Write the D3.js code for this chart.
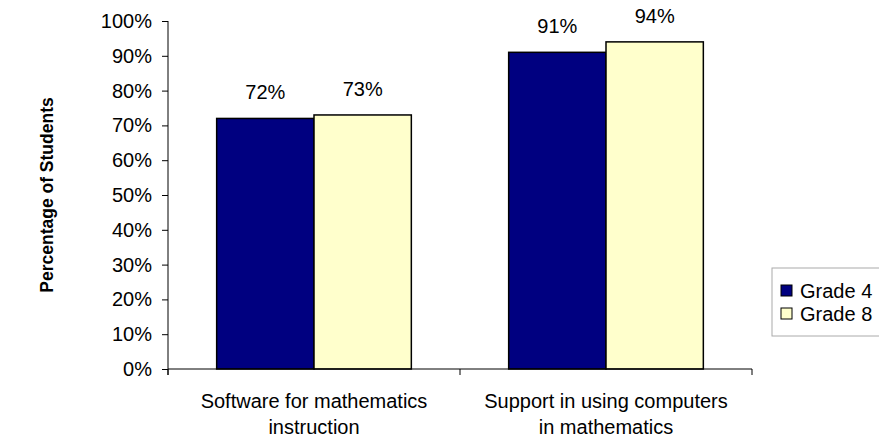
<!DOCTYPE html>
<html>
<head>
<meta charset="utf-8">
<script src="https://cdn.jsdelivr.net/npm/d3@7"></script>
<style>
  body { margin: 0; background: #fff; }
  svg { display: block; font-family: "Liberation Sans", Arial, sans-serif; }
</style>
</head>
<body>
<div id="chart"></div>
<script>
const [width, height] = [879, 443];

// data
const categories = [
  ["Software for mathematics", "instruction"],
  ["Support in using computers", "in mathematics"]
];
const seriesNames = ["Grade 4", "Grade 8"];
const grade4 = [72, 91];
const grade8 = [73, 94];
const yTicks = [0, 10, 20, 30, 40, 50, 60, 70, 80, 90, 100];
const colors = ["#000080", "#FFFFCC"];

const margin = {top: 21, right: 127, bottom: 74, left: 168};
const w = width - margin.left - margin.right;
const h = height - margin.top - margin.bottom;

const svg = d3.select("#chart")
  .append("svg")
  .attr("width", width)
  .attr("height", height);

const g = svg.append("g")
  .attr("transform", `translate(${margin.left},${margin.top})`);

const x = d3.scaleBand()
  .domain(d3.range(categories.length))
  .range([0, w])
  .paddingInner(0)
  .paddingOuter(0);

const x1 = d3.scaleBand()
  .domain(seriesNames)
  .range([0, x.bandwidth()])
  .paddingInner(0)
  .paddingOuter(0.5);

const y = d3.scaleLinear().domain([0, 100]).range([h, 0]);

// y axis
const yAxis = d3.axisLeft(y)
  .tickValues(yTicks)
  .tickFormat(d => d + "%")
  .tickSize(6)
  .tickPadding(10);

const ya = g.append("g").call(yAxis);
ya.select(".domain").remove();
ya.selectAll("line").attr("stroke", "#000");
ya.selectAll("text")
  .attr("font-size", 20)
  .attr("fill", "#000")
  .attr("font-family", "Liberation Sans, Arial, sans-serif");

g.append("line")
  .attr("x1", 0).attr("x2", 0)
  .attr("y1", 0).attr("y2", h + 6)
  .attr("stroke", "#000");

// bars
const rows = categories.map((c, i) => ({i, vals: [grade4[i], grade8[i]]}));

const groups = g.selectAll(".grp")
  .data(rows)
  .enter().append("g")
  .attr("transform", d => `translate(${x(d.i)},0)`);

groups.selectAll("rect")
  .data(d => d.vals.map((v, k) => ({v, k})))
  .enter().append("rect")
  .attr("x", d => x1(seriesNames[d.k]))
  .attr("y", d => y(d.v))
  .attr("width", x1.bandwidth())
  .attr("height", d => h - y(d.v))
  .attr("fill", d => colors[d.k])
  .attr("stroke", "#000")
  .attr("stroke-width", 1.5);

groups.selectAll(".lbl")
  .data(d => d.vals.map((v, k) => ({v, k})))
  .enter().append("text")
  .attr("x", d => x1(seriesNames[d.k]) + x1.bandwidth() / 2)
  .attr("y", d => y(d.v) - 19)
  .attr("text-anchor", "middle")
  .attr("font-size", 20)
  .text(d => d.v + "%");

// x axis
g.append("line")
  .attr("x1", 0).attr("x2", w)
  .attr("y1", h).attr("y2", h)
  .attr("stroke", "#000");

g.selectAll(".xtick")
  .data(d3.range(categories.length + 1))
  .enter().append("line")
  .attr("x1", d => d * x.bandwidth())
  .attr("x2", d => d * x.bandwidth())
  .attr("y1", h).attr("y2", h + 6)
  .attr("stroke", "#000");

const xl = g.selectAll(".xlbl")
  .data(categories)
  .enter().append("text")
  .attr("text-anchor", "middle")
  .attr("font-size", 20)
  .attr("transform", (d, i) => `translate(${x(i) + x.bandwidth() / 2},${h + 39})`);

xl.selectAll("tspan")
  .data(d => d)
  .enter().append("tspan")
  .attr("x", 0)
  .attr("dy", (d, i) => i === 0 ? 0 : 26)
  .text(d => d);

// y title
svg.append("text")
  .attr("transform", `translate(53,${margin.top + h / 2}) rotate(-90)`)
  .attr("text-anchor", "middle")
  .attr("font-size", 17.5)
  .attr("font-weight", "bold")
  .text("Percentage of Students");

// legend
const lg = svg.append("g").attr("transform", "translate(772,268)");
lg.append("rect")
  .attr("width", 120).attr("height", 68)
  .attr("fill", "#fff")
  .attr("stroke", "#aaa");

const li = lg.selectAll(".li")
  .data(seriesNames)
  .enter().append("g")
  .attr("transform", (d, i) => `translate(9,${23 + i * 23})`);

li.append("rect")
  .attr("x", 0).attr("y", -6)
  .attr("width", 11).attr("height", 11)
  .attr("fill", (d, i) => colors[i])
  .attr("stroke", "#000");

li.append("text")
  .attr("x", 19).attr("y", 0)
  .attr("dy", "0.35em")
  .attr("font-size", 20)
  .text(d => d);
</script>
</body>
</html>
